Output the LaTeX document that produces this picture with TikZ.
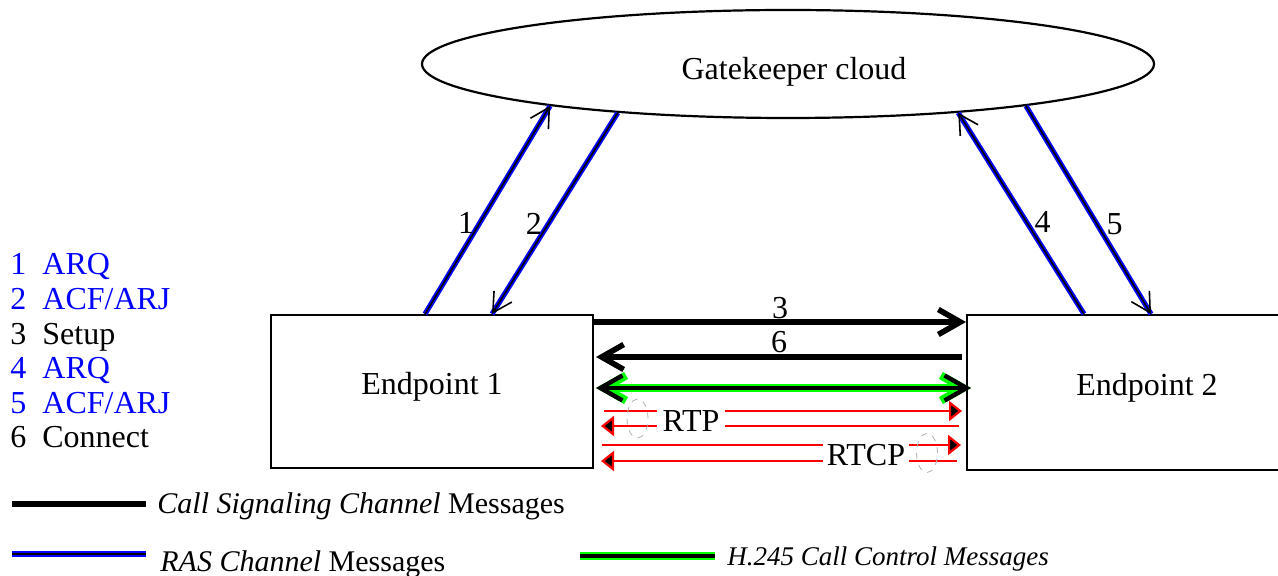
\documentclass[tikz,border=0pt]{standalone}
\usepackage{fontspec}
\setmainfont{Liberation Serif}
\usetikzlibrary{arrows.meta,shapes.geometric,calc}

\tikzset{
  endpoint/.style={draw, line width=1pt, inner sep=0pt, text depth=8pt},
  ras/.style={draw=blue, line width=2.6pt},
  rascore/.style={line width=0.8pt, -{Straight Barb[length=9.5pt,width=10.5pt]}},
  signal/.style={line width=2.8pt, -{Straight Barb[length=11pt,width=12.5pt]}},
  media/.style={red, line width=1.1pt, -{Triangle[fill=black,length=6.5pt,width=10pt]}},
  bundle/.style={draw=gray!60, dashed, ellipse, minimum width=10.5pt, minimum height=19.5pt, inner sep=0pt},
}

\begin{document}
\begin{tikzpicture}[x=0.5pt,y=-0.5pt,font=\fontsize{16}{19}\selectfont]
\useasboundingbox (0,0) rectangle (1278,576);

% gatekeeper and the two endpoints
\node[draw, ellipse, line width=1.1pt, minimum width=366pt, minimum height=54pt, inner sep=0pt] (gk) at (788,64) {};
\node (gktext) at ($(gk.center)+(6,8)$) {Gatekeeper cloud};
\node[endpoint, minimum width=161pt, minimum height=76.5pt] (ep1) at (432,391.5) {Endpoint 1};
\node[endpoint, minimum width=180pt, minimum height=77.5pt] (ep2) at (1147,392.5) {Endpoint 2};

% RAS messages
\coordinate (r1) at ($(ep1.north west)+(155,0)$);
\coordinate (r2) at ($(ep1.north west)+(222,0)$);
\coordinate (r4) at ($(ep2.north west)+(118,0)$);
\coordinate (r5) at ($(ep2.north west)+(185,0)$);
\draw[ras] (r1) -- (gk.190);
\draw[ras] (gk.196) -- (r2);
\draw[ras] (r4) -- (gk.344);
\draw[ras] (gk.350) -- (r5);
\draw[rascore] (r1) -- (gk.190) node[pos=.44, anchor=east, inner sep=2.5pt] (m1) {1};
\draw[rascore] (gk.196) -- (r2) node[pos=.55, anchor=east, inner sep=3pt] (m2) {2};
\draw[rascore] (r4) -- (gk.344) node[pos=.455, anchor=west, inner sep=3.5pt] (m4) {4};
\draw[rascore] (gk.350) -- (r5) node[pos=.566, anchor=west, inner sep=4.5pt] (m5) {5};

% call signaling
\draw[signal] ($(ep1.north east)+(0,8)$) -- ($(ep2.north west)+(0,8)$)
  node[midway, anchor=base, inner sep=0pt, yshift=1.5pt] (m3) {3};
\draw[signal] ($(ep2.north west)+(-4,43)$) -- ($(ep1.north east)+(2,43)$)
  node[midway, anchor=base, inner sep=0pt, yshift=2pt] (m6) {6};

% H.245 control, black on green
\draw[green, line width=4pt, {Straight Barb[length=11pt,width=12.5pt]}-{Straight Barb[length=11pt,width=12.5pt]}]
  ($(ep1.north east)+(2,74)$) -- ($(ep2.north west)+(5,74)$);
\draw[line width=2.2pt, {Straight Barb[length=11pt,width=12.5pt]}-{Straight Barb[length=11pt,width=12.5pt]}]
  ($(ep1.north east)+(2,74)$) -- ($(ep2.north west)+(5,74)$);

% media streams
\draw[media] ($(ep1.north east)+(10,97)$) -- ($(ep2.north west)+(-4,97)$);
\draw[media] ($(ep2.north west)+(-7,112)$) -- ($(ep1.north east)+(7,112)$);
\draw[media] ($(ep1.north east)+(8,131)$) -- ($(ep2.north west)+(-5,131)$);
\draw[media] ($(ep2.north west)+(-9,147)$) -- ($(ep1.north east)+(7,147)$);
\node[fill=white, inner xsep=3pt, inner ysep=1pt] (rtp) at (691,421) {RTP};
\node[fill=white, inner xsep=2pt, inner ysep=1pt] (rtcp) at (866,455) {RTCP};
\node[bundle] (rtpmark) at (637.5,418.5) {};
\node[bundle] (rtcpmark) at (927,453) {};

% message key
\foreach \n/\t/\c [count=\i] in {1/ARQ/blue, 2/{ACF/ARJ}/blue, 3/Setup/black, 4/ARQ/blue, 5/{ACF/ARJ}/blue, 6/Connect/black}
  \node[anchor=base west, inner sep=0pt, text=\c] (key\i) at (10,{275+34.6*(\i-1)}) {\n\enspace\t};

% line legend
\coordinate (sigA) at (12,504);
\coordinate (sigB) at (146,504);
\draw[line width=3pt] (sigA) -- (sigB);
\node[anchor=base west, inner sep=0pt, font=\fontsize{15}{18}\selectfont] (sigtext) at (157,513) {\textit{Call Signaling Channel} Messages};

\coordinate (rasA) at (12,554);
\coordinate (rasB) at (146,554);
\draw[ras] (rasA) -- (rasB);
\draw[line width=0.7pt] (rasA) -- (rasB);
\node[anchor=base west, inner sep=0pt, font=\fontsize{15}{18}\selectfont] (rastext) at (160,571) {\textit{RAS Channel} Messages};

\coordinate (ctlA) at (580,556);
\coordinate (ctlB) at (715,556);
\draw[green, line width=3.6pt] (ctlA) -- (ctlB);
\draw[line width=2pt] (ctlA) -- (ctlB);
\node[anchor=base west, inner sep=0pt, font=\fontsize{13.5}{16}\selectfont\itshape] (ctltext) at (727,565) {H.245 Call Control Messages};
\end{tikzpicture}
\end{document}
